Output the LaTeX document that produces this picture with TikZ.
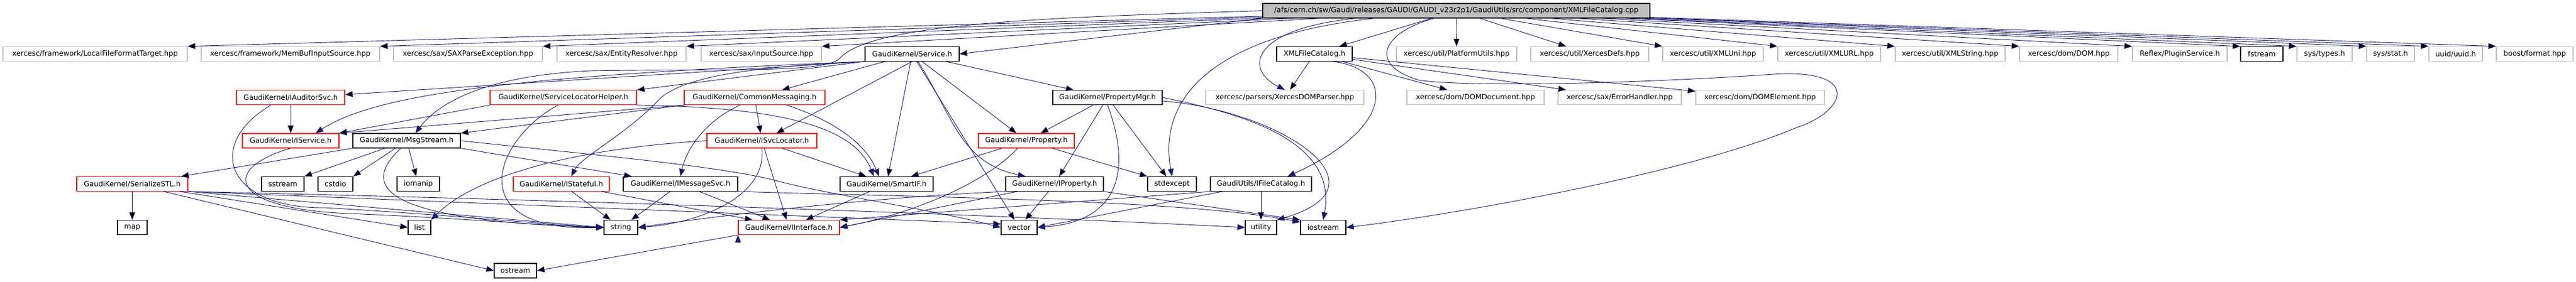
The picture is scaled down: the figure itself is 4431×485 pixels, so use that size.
\documentclass[tikz,border=0pt]{standalone}
\usepackage{fontspec}
\setmainfont{DejaVu Sans}
\usepackage{tikz}
\usepackage{xcolor}
\usetikzlibrary{arrows.meta}

\definecolor{edgeblue}{HTML}{191970}
\definecolor{hidred}{HTML}{FF0000}
\definecolor{extgray}{HTML}{BFBFBF}
\newcommand{\hdrfont}{\fontsize{12.4}{15}\selectfont}

\tikzset{
  hdr/.style={rectangle, minimum height=25pt, inner sep=1pt, font=\hdrfont, line width=1.1pt},
  inc/.style={hdr, draw=black},
  ext/.style={hdr, draw=extgray, line width=1.4pt},
  hid/.style={hdr, draw=hidred},
  rootbox/.style={hdr, draw=black, fill=extgray},
  dep/.style={draw=edgeblue, line width=0.9pt, -{Triangle[length=13pt,width=10pt]}}
}

\begin{document}
\begin{tikzpicture}[x=1pt, y=-1pt]
        \useasboundingbox (0,0) rectangle (4431,485);

        \node[rootbox, minimum width=666pt] (root) at (2505, 18.5) {/afs/cern.ch/sw/Gaudi/releases/GAUDI/GAUDI\_v23r2p1/GaudiUtils/src/component/XMLFileCatalog.cpp};

        % row 1
        \node[ext, minimum width=317pt] (lfft) at (163.5, 93) {xercesc/framework/LocalFileFormatTarget.hpp};
        \node[ext, minimum width=307pt] (mbis) at (499.5, 93) {xercesc/framework/MemBufInputSource.hpp};
        \node[ext, minimum width=256pt] (saxpe) at (805, 93) {xercesc/sax/SAXParseException.hpp};
        \node[ext, minimum width=222pt] (entres) at (1069, 93) {xercesc/sax/EntityResolver.hpp};
        \node[ext, minimum width=207pt] (inpsrc) at (1309.5, 93) {xercesc/sax/InputSource.hpp};
        \node[inc, minimum width=162pt] (svc) at (1569, 93) {GaudiKernel/Service.h};
        \node[inc, minimum width=130pt] (xmlfc) at (2261, 93) {XMLFileCatalog.h};
        \node[ext, minimum width=207pt] (platu) at (2505.5, 93) {xercesc/util/PlatformUtils.hpp};
        \node[ext, minimum width=203pt] (xdefs) at (2734.5, 93) {xercesc/util/XercesDefs.hpp};
        \node[ext, minimum width=173pt] (xuni) at (2946.5, 93) {xercesc/util/XMLUni.hpp};
        \node[ext, minimum width=177pt] (xurl) at (3146.5, 93) {xercesc/util/XMLURL.hpp};
        \node[ext, minimum width=189pt] (xstr) at (3354.5, 93) {xercesc/util/XMLString.hpp};
        \node[ext, minimum width=169pt] (dom) at (3558.5, 93) {xercesc/dom/DOM.hpp};
        \node[ext, minimum width=163pt] (plugin) at (3749.5, 93) {Reflex/PluginService.h};
        \node[inc, minimum width=73pt] (fstr) at (3890.5, 93) {fstream};
        \node[ext, minimum width=95pt] (systypes) at (3998.5, 93) {sys/types.h};
        \node[ext, minimum width=82pt] (sysstat) at (4112, 93) {sys/stat.h};
        \node[ext, minimum width=92pt] (uuid) at (4224, 93) {uuid/uuid.h};
        \node[ext, minimum width=132pt] (boostf) at (4360, 93) {boost/format.hpp};

        % row 2
        \node[hid, minimum width=186pt] (audsvc) at (500, 168) {GaudiKernel/IAuditorSvc.h};
        \node[hid, minimum width=252pt] (slh) at (969, 168) {GaudiKernel/ServiceLocatorHelper.h};
        \node[hid, minimum width=242pt] (cmsg) at (1298, 168) {GaudiKernel/CommonMessaging.h};
        \node[inc, minimum width=188pt] (pmgr) at (1905, 168) {GaudiKernel/PropertyMgr.h};
        \node[ext, minimum width=272pt] (xdomp) at (2210, 168) {xercesc/parsers/XercesDOMParser.hpp};
        \node[ext, minimum width=236pt] (domdoc) at (2538, 168) {xercesc/dom/DOMDocument.hpp};
        \node[ext, minimum width=212pt] (errh) at (2786, 168) {xercesc/sax/ErrorHandler.hpp};
        \node[ext, minimum width=221pt] (domel) at (3027.5, 168) {xercesc/dom/DOMElement.hpp};

        % row 3
        \node[hid, minimum width=166pt] (isvc) at (500, 242.5) {GaudiKernel/IService.h};
        \node[inc, minimum width=185pt] (msgs) at (699.5, 242.5) {GaudiKernel/MsgStream.h};
        \node[hid, minimum width=189pt] (isvcloc) at (1310.5, 242.5) {GaudiKernel/ISvcLocator.h};
        \node[hid, minimum width=165pt] (prop) at (1765.5, 242.5) {GaudiKernel/Property.h};

        % row 4
        \node[hid, minimum width=191pt] (sstl) at (227.5, 317) {GaudiKernel/SerializeSTL.h};
        \node[inc, minimum width=73pt] (sstrm) at (486.5, 317) {sstream};
        \node[inc, minimum width=60pt] (cstdio) at (577, 317) {cstdio};
        \node[inc, minimum width=73pt] (iomanip) at (719.5, 317) {iomanip};
        \node[hid, minimum width=165pt] (istate) at (965.5, 317) {GaudiKernel/IStateful.h};
        \node[inc, minimum width=197pt] (imsg) at (1170.5, 317) {GaudiKernel/IMessageSvc.h};
        \node[inc, minimum width=160pt] (smartif) at (1525, 317) {GaudiKernel/SmartIF.h};
        \node[inc, minimum width=168pt] (iprop) at (1814, 317) {GaudiKernel/IProperty.h};
        \node[inc, minimum width=84pt] (stdexc) at (2016, 317) {stdexcept};
        \node[inc, minimum width=174pt] (ifcat) at (2169, 317) {GaudiUtils/IFileCatalog.h};

        % row 5
        \node[inc, minimum width=51pt] (map) at (227.5, 392) {map};
        \node[inc, minimum width=39pt] (list) at (721.5, 392) {list};
        \node[inc, minimum width=58pt] (string) at (1068, 392) {string};
        \node[hid, minimum width=174pt] (iintf) at (1357, 392) {GaudiKernel/IInterface.h};
        \node[inc, minimum width=62pt] (vector) at (1753, 392) {vector};
        \node[inc, minimum width=54pt] (utility) at (2169, 392) {utility};
        \node[inc, minimum width=78pt] (iostrm) at (2276, 392) {iostream};

        % row 6
        \node[inc, minimum width=73pt] (ostrm) at (886.5, 466.5) {ostream};

        \draw[dep] (root) edge (lfft.north east)
            (root) edge (mbis.north east)
            (root) edge (saxpe.north east)
            (root) edge (entres.north east)
            (root) edge (inpsrc.north east)
            (root.south west) edge (svc.east)
            (root) edge (xmlfc)
            (root) edge (platu)
            (root) edge (xdefs)
            (root) edge (xuni.north west)
            (root) edge (xurl.north west)
            (root) edge (xstr.north west)
            (root) edge (dom.north west)
            (root) edge (plugin.north west)
            (root) edge (fstr.north west)
            (root) edge (systypes.north west)
            (root) edge (sysstat.north west)
            (root) edge (uuid.north west)
            (root) edge (boostf.north west)
            (xmlfc) edge (xdomp)
            (xmlfc) edge (domdoc)
            (xmlfc) edge (errh)
            (xmlfc) edge (domel)
            (svc.south west) edge ([yshift=5pt]audsvc.east)
            (svc.south west) edge (slh.north east)
            (svc) edge (cmsg)
            (svc.south) edge ([xshift=25pt]isvcloc.north)
            (svc) edge (smartif)
            (svc) edge (vector)
            (svc) edge (prop)
            (svc) edge (pmgr)
            (audsvc) edge (isvc)
            (slh.south west) edge (isvc.north east)
            (cmsg.south west) edge (isvc.north east)
            (cmsg.south west) edge (msgs.north east)
            (cmsg) edge (isvcloc)
            (pmgr) edge (prop)
            (pmgr) edge (iprop)
            (pmgr) edge (stdexc)
            (msgs.south west) edge ([xshift=-12pt]sstl.north east)
            (msgs) edge (sstrm.north east)
            (msgs) edge (cstdio.north east)
            (msgs) edge (iomanip)
            (msgs.south east) edge ([xshift=15pt]imsg.north west)
            (isvcloc) edge (iintf)
            ([xshift=35pt]isvcloc.south) edge ([xshift=-35pt]smartif.north)
            (prop) edge (smartif)
            (prop) edge (stdexc.north west)
            (sstl) edge (map)
            (sstl) edge (list.west)
            (sstl) edge (ostrm.west)
            (sstl.south east) edge (string.west)
            (sstl.south east) edge ([yshift=6pt]vector.west)
            (istate) edge (string)
            (istate) edge ([xshift=25pt]iintf.north west)
            (imsg) edge (string)
            (imsg) edge (iintf)
            (smartif) edge (iintf)
            (iprop) edge (iintf.east)
            (iprop) edge (vector)
            (iprop.south east) edge (iostrm.north west)
            (ifcat) edge (utility)
            (ifcat.south west) edge (iintf.north east)
            (ifcat) edge (vector.east)
            (iintf.south west) edge (ostrm.east);

        % long curved includes
        \draw[dep] (root.west) .. controls (1800,30) and (1500,40) .. (1445,100) .. controls (1420,127) and (1250,118) .. (1015,122) .. controls (850,130) and (760,170) .. ([xshift=15pt]msgs.north);
        \draw[dep] ([xshift=-172pt]root.south) .. controls (2150,50) and (2140,120) .. (xdomp.north);
        \draw[dep] ([xshift=-140pt]root.south) .. controls (2100,60) and (1990,160) .. (stdexc.north);
        \draw[dep] ([xshift=-38pt]root.south) .. controls (2380,55) and (2350,110) .. (2440,138) .. controls (2520,150) and (2800,145) .. (3050,128) .. controls (3200,118) and (3180,190) .. (3090,220) .. controls (2900,300) and (2500,370) .. (iostrm.east);
        \draw[dep] ([xshift=33pt]xmlfc.south) .. controls (2400,120) and (2400,220) .. ([xshift=46pt]ifcat.north);
        \draw[dep] (pmgr.south) .. controls (1935,260) and (1950,380) .. (vector.east);
        \draw[dep] ([yshift=-6pt]pmgr.east) .. controls (2200,190) and (2400,320) .. (utility.north east);
        \draw[dep] (pmgr.east) .. controls (2160,200) and (2300,250) .. (iostrm.north);
        \draw[dep] (svc.south west) .. controls (900,130) and (650,160) .. ([xshift=43pt]isvc.north);
        \draw[dep] (svc.south west) .. controls (1300,115) and (1180,130) .. (1135,170) .. controls (1080,230) and (1000,270) .. ([xshift=17pt]istate.north);
        \draw[dep] ([xshift=10pt]svc.south) .. controls (1640,200) and (1650,280) .. ([xshift=-50pt]iprop.north);
        \draw[dep] ([xshift=-34pt]audsvc.south) .. controls (350,250) and (390,360) .. (560,358) .. controls (800,372) and (950,388) .. (string.west);
        \draw[dep] (isvc.south) .. controls (380,290) and (390,360) .. (600,368) .. controls (800,376) and (950,390) .. (string.west);
        \draw[dep] ([xshift=-9pt]slh.south) .. controls (850,240) and (790,400) .. (string.west);
        \draw[dep] (slh.south east) .. controls (1350,185) and (1470,220) .. ([xshift=-22pt]smartif.north);
        \draw[dep] ([xshift=-25pt]cmsg.south) .. controls (1210,210) and (1180,260) .. (imsg.north);
        \draw[dep] ([xshift=55pt]cmsg.south) .. controls (1440,210) and (1490,250) .. ([xshift=-13pt]smartif.north);
        \draw[dep] ([xshift=-10pt]msgs.south) .. controls (620,320) and (650,380) .. (string.west);
        \draw[dep] (msgs.east) .. controls (1000,265) and (1230,285) .. (1330,310) .. controls (1420,335) and (1600,360) .. (vector.west);
        \draw[dep] (isvcloc.west) .. controls (1000,255) and (820,300) .. (list.north east);
        \draw[dep] (isvcloc.south) .. controls (1320,340) and (1200,385) .. (string.east);
        \draw[dep] ([xshift=-15pt]prop.south) .. controls (1690,320) and (1560,370) .. (iintf.east);
        \draw[dep] (sstl.south east) .. controls (1000,345) and (1700,370) .. (utility.west);
        \draw[dep] (imsg.south east) .. controls (1600,340) and (2050,345) .. ([yshift=-4pt]iostrm.north west);
        \draw[dep] (iprop.south west) .. controls (1500,340) and (1250,370) .. (string.east);
    \end{tikzpicture}
\end{document}
